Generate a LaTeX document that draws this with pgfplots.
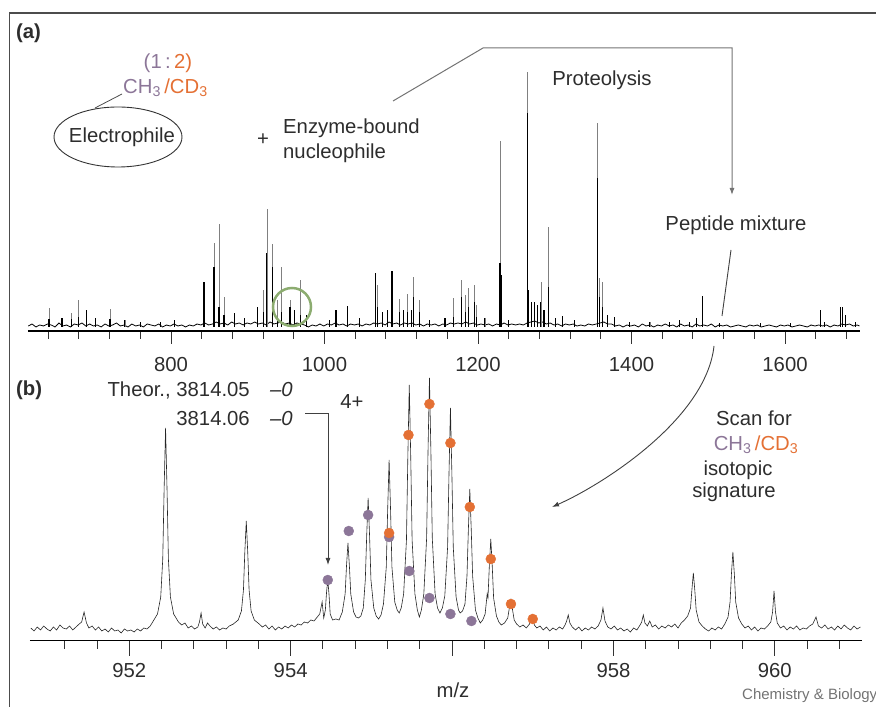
\documentclass[border=0pt]{standalone}
\usepackage{pgfplots}
\pgfplotsset{compat=1.18}
\usepackage{fontspec}
\setmainfont{Liberation Sans}
\usetikzlibrary{arrows.meta}
\definecolor{ch3}{RGB}{140,118,152}
\definecolor{cd3}{RGB}{228,112,52}
\definecolor{txt}{RGB}{45,45,45}
\definecolor{grn}{RGB}{140,172,112}
\newcommand{\fs}{\fontsize{20.3}{24}\selectfont}
\begin{document}
\begin{tikzpicture}[x=1pt,y=1pt]
\useasboundingbox (0,0) rectangle (876,707);
% frame
\draw[black!70, line width=1.5pt] (9.5,0) -- (9.5,694) -- (876,694);
% ---------------- panel (a)
\begin{axis}[at={(28pt,376pt)}, anchor=south west, scale only axis,
  width=832pt, height=271pt,
  xmin=613.7, xmax=1697.7, ymin=-4, ymax=267,
  axis x line=bottom, axis y line=none,
  x axis line style={-, line width=1.4pt, black},
  xtick={800,1000,1200,1400,1600}, minor xtick={640,680,...,1680},
  xtick align=outside, major tick length=13pt, minor tick length=8pt,
  tick style={black!80, line width=0.9pt},
  xticklabel style={font=\fs, text=txt, inner sep=0pt, yshift=-13pt},
  /pgf/number format/assume math mode=true, /pgf/number format/1000 sep={},
  clip=false]
\addplot[black, line width=0.8pt] table {
614 1
619 3
624 0
629 2
634 1
639 3
644 2
649 0
654 4
659 1
664 2
669 0
674 3
679 2
684 4
689 1
694 3
699 1
704 2
709 0
714 3
719 1
724 2
729 4
734 1
739 2
744 0
749 3
754 1
759 2
764 0
769 3
774 2
779 1
784 3
789 0
794 2
799 1
804 3
809 1
814 2
819 0
824 2
829 1
834 3
839 2
844 4
849 2
854 3
859 5
864 3
869 4
874 2
879 5
884 3
889 4
894 2
899 4
904 3
909 5
914 3
919 4
924 2
929 5
934 3
939 4
944 5
949 3
954 4
959 2
964 4
969 3
974 2
979 0
984 2
989 1
994 3
999 1
1004 3
1009 2
1014 4
1019 2
1024 3
1029 1
1034 3
1039 2
1044 3
1049 1
1054 3
1059 2
1064 4
1069 3
1074 4
1079 2
1084 5
1089 3
1094 4
1099 2
1104 4
1109 3
1114 4
1119 2
1124 3
1129 1
1134 3
1139 2
1144 3
1149 1
1154 3
1159 2
1164 4
1169 3
1174 4
1179 3
1184 5
1189 3
1194 4
1199 2
1204 3
1209 2
1214 3
1219 1
1224 3
1229 2
1234 4
1239 2
1244 3
1249 2
1254 3
1259 2
1264 4
1269 5
1274 6
1279 4
1284 5
1289 3
1294 4
1299 2
1304 3
1309 1
1314 3
1319 2
1324 3
1329 1
1334 2
1339 1
1344 3
1349 2
1354 3
1359 4
1364 5
1369 3
1374 3
1379 1
1384 2
1389 0
1394 2
1399 1
1404 2
1409 0
1414 3
1419 1
1424 2
1429 0
1434 2
1439 1
1444 3
1449 1
1454 2
1459 0
1464 3
1469 1
1474 2
1479 0
1484 3
1489 1
1494 2
1499 1
1504 3
1509 0
1514 2
1519 1
1524 2
1529 0
1534 1
1539 2
1544 1
1549 0
1554 2
1559 1
1564 2
1569 0
1574 1
1579 2
1584 1
1589 0
1594 2
1599 1
1604 2
1609 0
1614 1
1619 2
1624 1
1629 0
1634 2
1639 1
1644 2
1649 1
1654 2
1659 0
1664 2
1669 1
1674 3
1679 2
1684 3
1689 1
1694 2
1697 1
};
\addplot[ycomb, no markers, black!50, line width=0.8pt] table {
641 19
658 9
670 14
680 27
690 17
702 9
720.5 18
740 7
760 5
786 5
804 7
843 45
856 84
862.5 103
869 30
883 14
896 9
913 20
921 37
925 118
932.5 83
939 27
944 60
955 27
961 17
969 47
976 12
1007 7
1015 17
1030 21
1046 9
1066 54
1069 42
1076 15
1082 17
1088 56
1098 28
1103 17
1108 33
1113 17
1116 50
1124 27
1137 7
1157 9
1168 29
1179 47
1184 32
1188 39
1195 42
1198 22
1209 9
1228.6 186
1231 52
1240 7
1264 255
1266 37
1270 25
1274 25
1278 22
1282 45
1286 17
1292 100
1301 9
1310 11
1326 7
1356 204
1358.7 49
1362 45
1369 12
1378 10
1397 5
1424 5
1450 5
1463 7
1476 5
1485 9
1493 31
1515 4
1568 4
1607 4
1646 17
1651 5
1672 20
1675 20
1679 12
1692 5
};
\addplot[ycomb, no markers, black, line width=1.1pt] table {
641 8
658 9
670 8
680 10
690 17
702 9
720.5 8
740 7
760 5
786 5
804 7
843 45
856 60
862.5 20
869 12
883 14
896 9
913 20
921 15
925 74
932.5 60
939 10
944 15
955 20
961 17
969 12
976 12
1007 7
1015 17
1030 21
1046 9
1066 54
1069 20
1076 15
1082 17
1088 56
1098 15
1103 17
1108 15
1113 17
1116 30
1124 15
1137 7
1157 9
1168 10
1179 30
1184 15
1188 20
1195 25
1198 10
1209 9
1228.6 64
1231 52
1240 7
1264 214
1266 37
1270 25
1274 25
1278 22
1282 25
1286 17
1292 40
1301 9
1310 11
1326 7
1356 149
1358.7 30
1362 20
1369 12
1378 10
1397 5
1424 5
1450 5
1463 7
1476 5
1485 9
1493 31
1515 4
1568 4
1607 4
1646 17
1651 5
1672 20
1675 20
1679 12
1692 5
};
\end{axis}
% ---------------- panel (b)
\begin{axis}[at={(30pt,66pt)}, anchor=south west, scale only axis,
  width=832pt, height=271pt,
  xmin=950.77, xmax=961.08, ymin=-9, ymax=262,
  axis x line=bottom, axis y line=none,
  x axis line style={-, line width=1pt, black},
  xtick={952,954,956,958,960}, xticklabels={952,954,,958,960},
  minor xtick={951.2,951.6,...,960.8},
  xtick align=outside, major tick length=15pt, minor tick length=8pt,
  tick style={black!80, line width=0.9pt},
  xticklabel style={font=\fs, text=txt, inner sep=0pt, yshift=-7pt},
  clip=false]
\addplot[black!85, line width=0.6pt] table {
950.78 4
950.82 1
950.86 5
950.90 2
950.94 6
950.98 3
951.02 1
951.06 5
951.10 2
951.14 7
951.18 4
951.22 3
951.26 6
951.30 2
951.34 5
951.38 8
951.41 10
951.44 20
951.47 9
951.50 4
951.54 6
951.58 2
951.62 5
951.66 1
951.70 3
951.74 0
951.78 4
951.82 1
951.86 2
951.90 -1
951.94 3
951.98 1
952.02 2
952.06 0
952.10 3
952.14 1
952.18 4
952.22 3
952.26 6
952.29 10
952.35 18
952.39 35
952.415 73
952.432 143
952.45 204
952.468 143
952.485 73
952.51 35
952.55 18
952.61 10
952.65 7
952.69 9
952.73 4
952.77 6
952.81 3
952.85 5
952.87 10
952.89 19
952.91 8
952.94 4
952.97 9
953.00 6
953.04 3
953.08 5
953.12 2
953.16 4
953.20 3
953.24 6
953.29 8
953.35 12
953.39 21
953.415 42
953.432 80
953.45 111
953.468 80
953.485 42
953.51 21
953.55 12
953.61 8
953.65 5
953.69 7
953.73 3
953.77 6
953.81 2
953.85 5
953.89 3
953.93 6
953.97 4
954.01 7
954.05 5
954.09 8
954.13 7
954.17 10
954.21 9
954.25 12
954.29 11
954.33 15
954.36 18
954.39 30
954.41 14
954.43 22
954.445 40
954.46 52
954.475 38
954.49 18
954.52 12
954.56 13
954.60 12
954.64 20
954.675 38
954.692 66
954.71 89
954.728 66
954.745 38
954.78 20
954.81 15
954.84 14
954.87 16
954.90 24
954.925 52
954.942 96
954.96 134
954.978 96
954.995 52
955.03 24
955.06 16
955.09 13
955.12 17
955.15 28
955.185 65
955.202 122
955.22 172
955.238 122
955.255 65
955.29 30
955.32 22
955.345 19
955.37 24
955.40 38
955.435 92
955.452 175
955.47 247
955.488 175
955.505 92
955.54 38
955.57 22
955.595 15
955.62 22
955.65 38
955.685 94
955.702 180
955.72 254
955.738 180
955.755 94
955.79 38
955.82 24
955.85 19
955.88 24
955.91 36
955.945 85
955.962 158
955.98 224
955.998 158
956.015 85
956.05 35
956.08 22
956.10 19
956.13 21
956.16 28
956.185 56
956.202 102
956.22 143
956.238 102
956.255 56
956.29 22
956.32 14
956.35 9
956.38 12
956.41 18
956.435 38
956.445 34
956.462 66
956.48 93
956.498 66
956.515 34
956.55 16
956.58 10
956.61 7
956.65 9
956.69 14
956.71 24
956.73 32
956.75 22
956.77 12
956.80 8
956.84 5
956.88 7
956.92 4
956.96 8
956.99 17
957.02 7
957.05 4
957.09 6
957.13 2
957.17 5
957.21 1
957.25 4
957.29 2
957.33 5
957.37 3
957.40 7
957.42 11
957.44 17
957.46 9
957.49 5
957.53 2
957.57 5
957.61 1
957.65 4
957.69 2
957.73 5
957.77 3
957.81 6
957.845 12
957.87 24
957.895 11
957.93 5
957.97 3
958.01 6
958.05 2
958.09 4
958.13 1
958.17 3
958.21 0
958.25 4
958.29 2
958.33 7
958.35 10
958.37 17
958.39 9
958.42 6
958.45 11
958.48 5
958.52 7
958.56 3
958.60 6
958.64 4
958.68 7
958.72 5
958.76 8
958.80 4
958.84 9
958.88 12
958.92 16
958.955 24
958.972 42
958.99 59
959.008 42
959.025 22
959.06 10
959.10 6
959.14 3
959.18 1
959.22 4
959.26 2
959.30 5
959.34 3
959.38 8
959.42 15
959.445 30
959.462 58
959.48 80
959.498 58
959.515 30
959.55 14
959.59 8
959.63 4
959.67 6
959.71 2
959.75 5
959.79 1
959.83 4
959.87 3
959.91 6
959.95 10
959.972 20
959.99 41
960.008 20
960.03 9
960.07 4
960.11 6
960.15 2
960.19 5
960.23 3
960.27 6
960.31 2
960.35 4
960.39 3
960.43 6
960.47 8
960.51 15
960.54 6
960.58 4
960.62 7
960.66 3
960.70 5
960.74 2
960.78 6
960.82 3
960.86 7
960.90 4
960.94 2
960.98 6
961.02 3
961.06 5
};
\addplot[only marks, mark=*, mark size=5pt, mark options={fill=ch3, draw=ch3}] table {
954.46 52
954.72 101
954.96 117
955.22 95
955.47 61
955.72 34
955.98 18
956.24 11
};
\addplot[only marks, mark=*, mark size=5pt, mark options={fill=cd3, draw=cd3}] table {
955.22 99
955.46 197
955.72 228
955.98 189
956.22 125
956.48 73
956.73 28
957.00 13
};
\end{axis}
% ---------------- annotations
\begin{scope}[every node/.style={font=\fs, text=txt, inner sep=0pt}]
\node[anchor=west, font=\fs\bfseries] at (16,674) {(a)};
\node at (168,644) {\textcolor{ch3}{(1\,:}\textcolor{cd3}{\,2)}};
\node[anchor=west] at (123,619) {\textcolor{ch3}{CH\textsubscript{3}}\,\textcolor{cd3}{/CD\textsubscript{3}}};
\draw[black!70, line width=0.8pt] (95,599) -- (122,613);
\draw[black!80, line width=0.9pt] (118,570) ellipse [x radius=64, y radius=30];
\node at (122,570) {Electrophile};
\node at (263,567) {+};
\node[anchor=west] at (283,579) {Enzyme-bound};
\node[anchor=west] at (283,554) {nucleophile};
\draw[black!55, line width=1pt, -{Latex[length=7pt,width=5pt]}] (393,606) -- (483,659) -- (732,659) -- (732,512);
\node at (602,627) {Proteolysis};
\node at (736,482) {Peptide mixture};
\draw[black!75, line width=0.9pt] (731,457) -- (722,391);
\draw[black!75, line width=0.9pt, -{Latex[length=7pt,width=5pt]}] (714,361) .. controls (706,287) and (600,221) .. (552,200);
\node at (754,289) {Scan for};
\node at (756,262) {\textcolor{ch3}{CH\textsubscript{3}}\,\textcolor{cd3}{/CD\textsubscript{3}}};
\node at (738,237) {isotopic};
\node at (734,215) {signature};
\draw[grn, line width=2.5pt] (292,400) circle (19);
\node[anchor=west, font=\fs\bfseries] at (16,317) {(b)};
\node[anchor=east] at (250,317) {Theor., 3814.05};
\node[anchor=west] at (270,317) {\textit{--0}};
\node[anchor=east] at (250,288) {3814.06};
\node[anchor=west] at (270,288) {\textit{--0}};
\draw[black!75, line width=0.9pt, -{Latex[length=7pt,width=5pt]}] (305,294) -- (328,294) -- (328,142);
\node at (352,305) {4+};
\node at (453,17) {m/z};
\node[anchor=west, font=\fontsize{15}{18}\selectfont, text=black!55] at (742,11) {Chemistry \& Biology};
\end{scope}
\end{tikzpicture}
\end{document}
